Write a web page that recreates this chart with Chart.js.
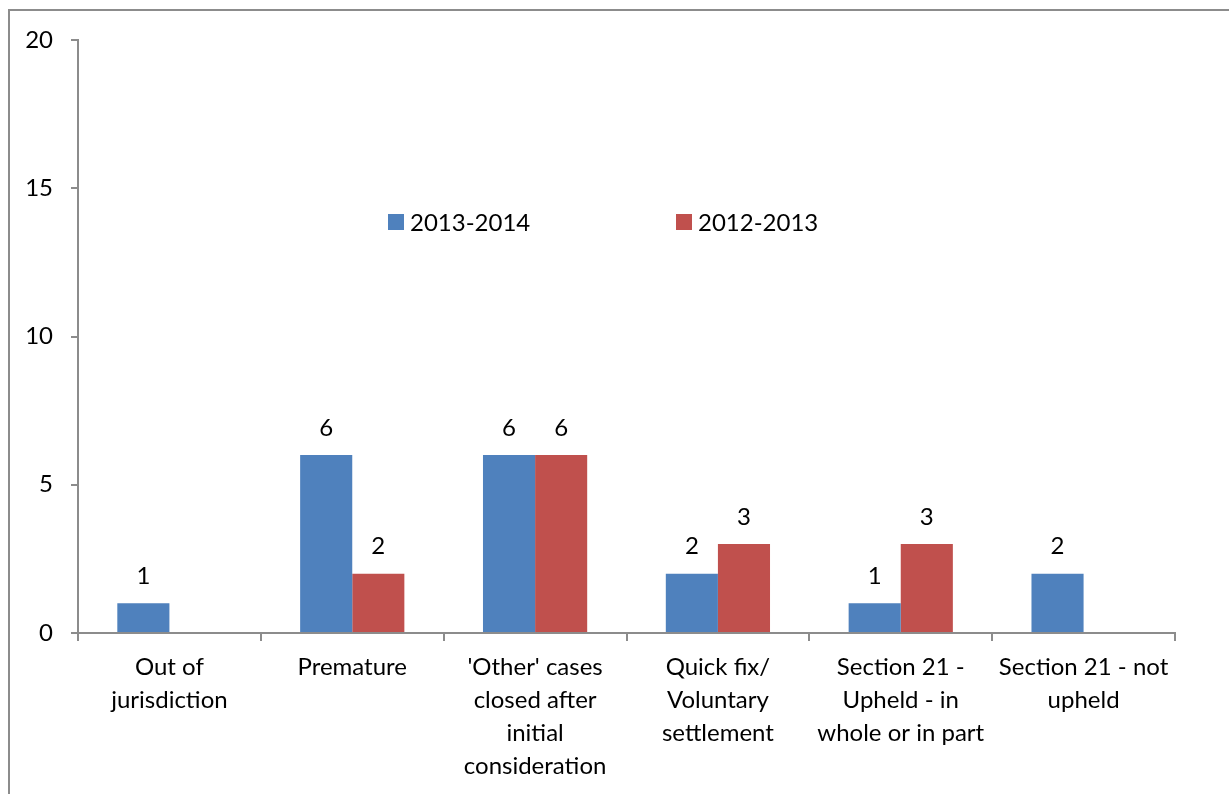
<!DOCTYPE html>
<html>
<head>
<meta charset="utf-8">
<script src="https://cdn.jsdelivr.net/npm/chart.js@4/dist/chart.umd.min.js"></script>
<style>
  html, body { margin: 0; padding: 0; background: #fff; overflow: hidden; }
  #frame { position: absolute; left: 8px; top: 9px; width: 1260px; height: 820px; border: 2px solid #8c8c8c; box-sizing: border-box; }
  #wrap { position: absolute; left: 0; top: 0; width: 1229px; height: 794px; }
</style>
</head>
<body>
<div id="frame"></div>
<div id="wrap"><canvas id="chart"></canvas></div>
<script>
const categories = [
  ['Out of', 'jurisdiction'],
  ['Premature'],
  ["'Other' cases", 'closed after', 'initial', 'consideration'],
  ['Quick fix/', 'Voluntary', 'settlement'],
  ['Section 21 -', 'Upheld - in', 'whole or in part'],
  ['Section 21 - not', 'upheld']
];
const seriesNames = ['2013-2014', '2012-2013'];
const values2013_2014 = [1, 6, 6, 2, 1, 2];
const values2012_2013 = [null, 2, 6, 3, 3, null];
const yTicks = [0, 5, 10, 15, 20];

const FONT = 'Lato, "Open Sans", sans-serif';
const FS = 24;

// value labels above each bar
const valueLabels = {
  id: 'valueLabels',
  afterDatasetsDraw(chart) {
    const ctx = chart.ctx;
    ctx.save();
    ctx.font = FS + 'px ' + FONT;
    ctx.fillStyle = '#000';
    ctx.textAlign = 'center';
    ctx.textBaseline = 'middle';
    chart.data.datasets.forEach((ds, i) => {
      chart.getDatasetMeta(i).data.forEach((bar, j) => {
        if (ds.data[j] == null) return;
        ctx.fillText(String(ds.data[j]), bar.x, bar.y - 27);
      });
    });
    ctx.restore();
  }
};

// legend drawn inside the plot area
const innerLegend = {
  id: 'innerLegend',
  afterDraw(chart) {
    const ctx = chart.ctx;
    const starts = [388, 676];
    ctx.save();
    ctx.font = FS + 'px ' + FONT;
    ctx.textBaseline = 'middle';
    chart.data.datasets.forEach((ds, i) => {
      const x = starts[i], y = 222;
      ctx.fillStyle = ds.backgroundColor;
      ctx.fillRect(x, y - 8, 16, 16);
      ctx.fillStyle = '#000';
      ctx.fillText(ds.label, x + 22, y + 1);
    });
    ctx.restore();
  }
};

new Chart(document.getElementById('chart'), {
  type: 'bar',
  data: {
    labels: categories,
    datasets: [
      { label: seriesNames[0], data: values2013_2014, backgroundColor: '#4F81BD' },
      { label: seriesNames[1], data: values2012_2013, backgroundColor: '#C0504D' }
    ]
  },
  options: {
    responsive: true,
    maintainAspectRatio: false,
    animation: false,
    categoryPercentage: 0.57,
    barPercentage: 1.0,
    layout: { padding: { top: 40, right: 54, left: 0, bottom: 0 } },
    plugins: {
      legend: { display: false },
      tooltip: { enabled: false }
    },
    scales: {
      y: {
        min: 0,
        max: 20,
        afterFit: (s) => { s.width = 78; },
        afterBuildTicks: (s) => { s.ticks = yTicks.map(v => ({ value: v })); },
        ticks: { color: '#000', font: { size: FS, family: FONT }, padding: 18 },
        grid: { drawOnChartArea: false, drawTicks: true, tickLength: 7, color: '#8c8c8c', lineWidth: 2 },
        border: { display: true, color: '#8c8c8c', width: 2 }
      },
      x: {
        afterFit: (s) => { s.height = 161; },
        ticks: { color: '#000', font: { size: FS, family: FONT, lineHeight: 33 / FS }, padding: 10, maxRotation: 0, autoSkip: false },
        grid: { drawOnChartArea: false, drawTicks: true, tickLength: 8, color: '#8c8c8c', lineWidth: 2 },
        border: { display: true, color: '#8c8c8c', width: 2 }
      }
    }
  },
  plugins: [valueLabels, innerLegend]
});
</script>
</body>
</html>
